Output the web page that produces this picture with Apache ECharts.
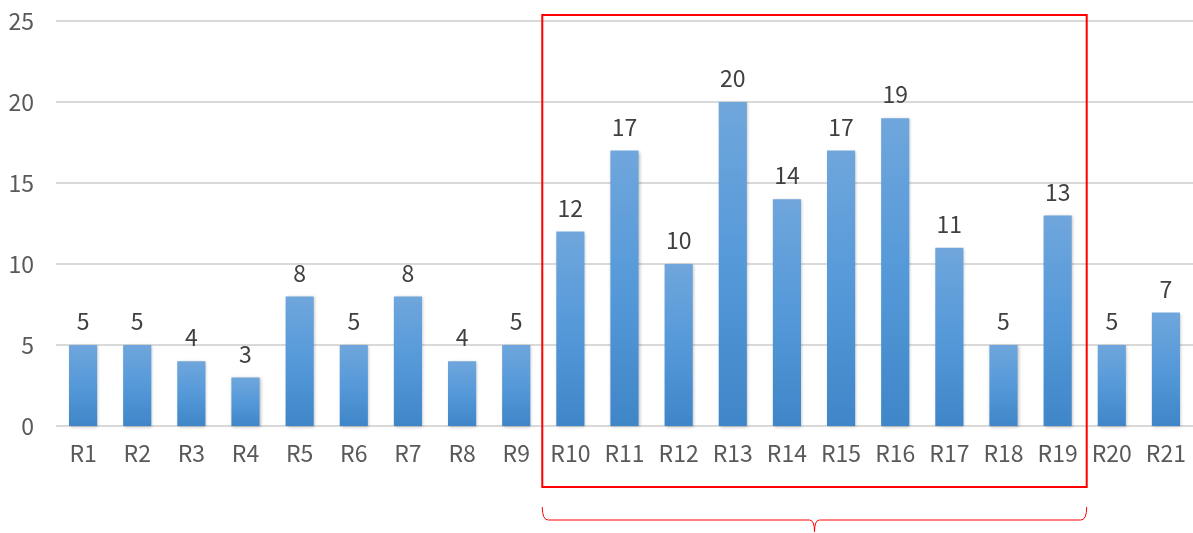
<!DOCTYPE html>
<html><head><meta charset="utf-8">
<script src="https://cdn.jsdelivr.net/npm/echarts@6/dist/echarts.min.js"></script>
<style>html,body{margin:0;padding:0;background:#fff;}#c{width:1193px;height:533px;}</style>
</head><body><div id="c"></div>
<script>
const categories = ['R1','R2','R3','R4','R5','R6','R7','R8','R9','R10','R11','R12','R13','R14','R15','R16','R17','R18','R19','R20','R21'];
const values = [5,5,4,3,8,5,8,4,5,12,17,10,20,14,17,19,11,5,13,5,7];
const yTicks = [0,5,10,15,20,25];
const highlightFrom = 'R10';
const highlightTo = 'R19';

const FONT = '"Noto Sans CJK JP", "Noto Sans", sans-serif';
const chart = echarts.init(document.getElementById('c'));
chart.setOption({
  animation: false,
  grid: {left: 56, right: 0, top: 21, bottom: 107},
  xAxis: {
    type: 'category', data: categories,
    axisLine: {show: false}, axisTick: {show: false},
    axisLabel: {color: '#595959', fontSize: 23, fontFamily: FONT, margin: 16, interval: 0}
  },
  yAxis: {
    type: 'value', min: yTicks[0], max: yTicks[yTicks.length-1], interval: 5,
    axisLabel: {color: '#595959', fontSize: 23, fontFamily: FONT, margin: 22},
    splitLine: {lineStyle: {color: '#d9d9d9', width: 2}},
    axisLine: {show: false}, axisTick: {show: false}
  },
  series: [{
    type: 'bar', data: values, barWidth: '52%',
    itemStyle: {
      color: new echarts.graphic.LinearGradient(0,0,0,1,[{offset:0,color:'#6fa6dc'},{offset:0.5,color:'#5599d9'},{offset:1,color:'#3f86c8'}]),
      shadowColor: 'rgba(0,0,0,0.25)', shadowBlur: 3, shadowOffsetX: 1, shadowOffsetY: 1
    },
    label: {show: true, position: 'top', distance: 12, color: '#404040', fontSize: 23, fontFamily: FONT}
  }]
});

function drawOverlay() {
  const i0 = categories.indexOf(highlightFrom), i1 = categories.indexOf(highlightTo);
  const c0 = chart.convertToPixel({xAxisIndex: 0}, highlightFrom);
  const c1 = chart.convertToPixel({xAxisIndex: 0}, highlightTo);
  const step = (c1 - c0) / (i1 - i0);
  const x0 = c0 - step / 2 - 1, x1 = c1 + step / 2 + 2;
  const yTop = chart.convertToPixel({yAxisIndex: 0}, yTicks[yTicks.length-1]) - 6;
  const y0 = chart.convertToPixel({yAxisIndex: 0}, 0);
  const yBot = y0 + 61;
  const bTop = yBot + 20, bMid = yBot + 33, bTip = yBot + 45;
  const xm = (x0 + x1) / 2;
  const st = {fill: 'none', stroke: '#ff0000', lineWidth: 1};
  const curve = (ax, ay, cx, cy, bx, by) => ({type: 'bezierCurve', shape: {x1: ax, y1: ay, cpx1: cx, cpy1: cy, x2: bx, y2: by}, style: st, z: 100});
  const line = (ax, ay, bx, by) => ({type: 'line', shape: {x1: ax, y1: ay, x2: bx, y2: by}, style: st, z: 100});
  chart.setOption({graphic: [
    {type: 'rect', shape: {x: x0, y: yTop, width: x1 - x0, height: yBot - yTop}, style: {fill: 'none', stroke: '#ff0000', lineWidth: 2}, z: 100},
    curve(x0, bTop, x0, bMid, x0 + 6, bMid),
    line(x0 + 6, bMid, xm - 5, bMid),
    curve(xm - 5, bMid, xm, bMid, xm, bTip),
    curve(xm, bTip, xm, bMid, xm + 5, bMid),
    line(xm + 5, bMid, x1 - 6, bMid),
    curve(x1 - 6, bMid, x1, bMid, x1, bTop)
  ]});
}
drawOverlay();
</script></body></html>
